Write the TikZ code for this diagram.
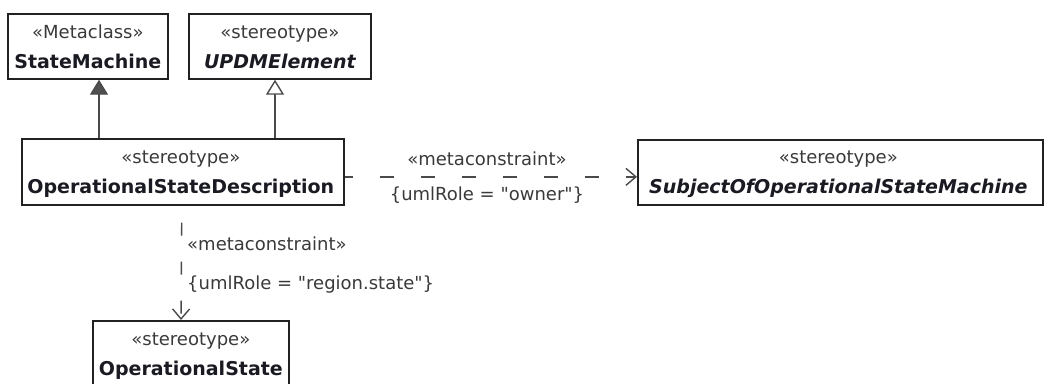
\documentclass[tikz,border=0pt]{standalone}
\usepackage{fontspec}
\setmainfont{DejaVu Sans}[Ligatures=TeXOff]
\usetikzlibrary{arrows.meta,calc}
\definecolor{boxc}{HTML}{222222}
\definecolor{linec}{HTML}{4A4A4A}
\definecolor{stc}{HTML}{3A3A3A}
\definecolor{namec}{HTML}{1A1A22}
\definecolor{tric}{HTML}{505050}
\begin{document}
\begin{tikzpicture}[x=1pt,y=-1pt,
  umlbox/.style={draw=boxc, line width=1.7pt, fill=white, anchor=north west, inner sep=0pt},
  stlabel/.style={font=\fontsize{18}{20}\selectfont, text=stc, anchor=base, inner sep=0pt},
  namelabel/.style={font=\fontsize{19}{22}\selectfont\bfseries, text=namec, anchor=base, inner sep=0pt},
  inamelabel/.style={font=\fontsize{19}{22}\selectfont\bfseries\itshape, text=namec, anchor=base, inner sep=0pt},
  edgelabel/.style={font=\fontsize{18}{20}\selectfont, text=stc, inner sep=0pt},
  conn/.style={draw=linec, line width=1.4pt},
  genfill/.style={conn, -{Triangle[length=15pt,width=18pt,fill=tric]}},
  genopen/.style={conn, -{Triangle[open,length=15pt,width=18pt,fill=white]}},
  depend/.style={conn, -{Straight Barb[length=10pt,width=17pt]}},
]
\clip (0,0) rectangle (1044,383);
\fill[white] (0,0) rectangle (1044,383);

% boxes
\node[umlbox, minimum width=160pt, minimum height=65pt] (sm) at (7,13) {};
\node[umlbox, minimum width=182pt, minimum height=65pt] (upd) at (188,13) {};
\node[umlbox, minimum width=322pt, minimum height=66pt] (osd) at (21,138) {};
\node[umlbox, minimum width=405pt, minimum height=65pt] (subj) at (637,139) {};
\node[umlbox, minimum width=196pt, minimum height=66pt] (ops) at (92,320) {};

% box texts
\node[stlabel] (smst) at ($(sm.north)+(0,25)$) {«Metaclass»};
\node[namelabel] (smnm) at ($(sm.north)+(0,55)$) {StateMachine};
\node[stlabel] (updst) at ($(upd.north)+(0,25)$) {«stereotype»};
\node[inamelabel] (updnm) at ($(upd.north)+(0,55)$) {UPDMElement};
\node[stlabel] (osdst) at ($(osd.north)+(-2,25)$) {«stereotype»};
\node[namelabel] (osdnm) at ($(osd.north)+(-2,55)$) {OperationalStateDescription};
\node[stlabel] (subjst) at ($(subj.north)+(-2,24)$) {«stereotype»};
\node[inamelabel] (subjnm) at ($(subj.north)+(-2,54)$) {SubjectOfOperationalStateMachine};
\node[stlabel] (opsst) at ($(ops.north)+(0,25)$) {«stereotype»};
\node[namelabel] (opsnm) at ($(ops.north)+(0,55)$) {OperationalState};

% generalizations
\draw[genfill] ($(osd.north west)+(78,0)$) -- ($(sm.south west)+(92,0)$);
\draw[genopen] ($(osd.north west)+(254,0)$) -- ($(upd.south west)+(87,0)$);

% dependencies
\draw[depend, dash pattern=on 14pt off 27pt, dash phase=6pt]
  ($(osd.east)+(0,5)$) -- ($(subj.west)+(0,4.5)$);
\draw[depend, dash pattern=on 13pt off 26pt, dash phase=22pt]
  ($(osd.south)+(-1,0)$) -- ($(ops.north west)+(89,0)$);

% connector labels
\node[edgelabel, anchor=base] (mc1) at (487,165) {«metaconstraint»};
\node[edgelabel, anchor=base] (role1) at (487,200) {\{umlRole = "owner"\}};
\node[edgelabel, anchor=base west] (mc2) at (187,250) {«metaconstraint»};
\node[edgelabel, anchor=base west] (role2) at (187,289) {\{umlRole = "region.state"\}};
\end{tikzpicture}
\end{document}
